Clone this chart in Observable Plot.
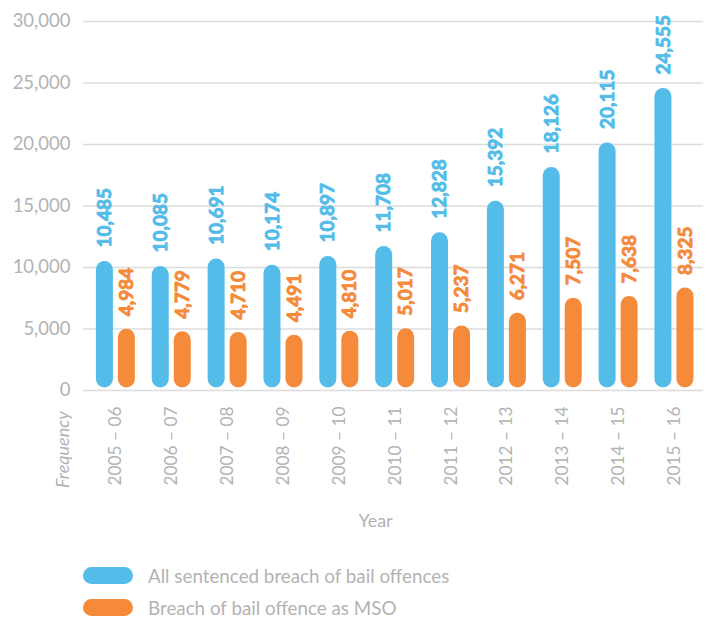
<!DOCTYPE html>
<html>
<head>
<meta charset="utf-8">
<script src="https://cdn.jsdelivr.net/npm/d3@7"></script>
<script src="https://cdn.jsdelivr.net/npm/@observablehq/plot@0.6"></script>
<style>
  body { margin: 0; background: #fff; font-family: Lato, sans-serif; }
  #chart svg { display: block; }
  .legend { margin-top: 14px; padding-left: 83px; }
  .row { display: flex; align-items: center; height: 32px; }
  .sw { width: 50px; height: 17px; border-radius: 8.5px; margin-right: 15px; }
  .lab { font-size: 18.8px; color: #b3b3b3; }
</style>
</head>
<body>
<div id="chart"></div>
<script>
const years = ["2005 – 06", "2006 – 07", "2007 – 08", "2008 – 09", "2009 – 10", "2010 – 11", "2011 – 12", "2012 – 13", "2013 – 14", "2014 – 15", "2015 – 16"];
const allSentenced = [10485, 10085, 10691, 10174, 10897, 11708, 12828, 15392, 18126, 20115, 24555];
const asMSO = [4984, 4779, 4710, 4491, 4810, 5017, 5237, 6271, 7507, 7638, 8325];
const seriesNames = ["All sentenced breach of bail offences", "Breach of bail offence as MSO"];
const colors = ["#53bce9", "#f58a3a"];
const yTicks = [0, 5000, 10000, 15000, 20000, 25000, 30000];

const dataA = years.map((year, i) => ({year, value: allSentenced[i]}));
const dataB = years.map((year, i) => ({year, value: asMSO[i]}));

const font = 'Lato, sans-serif';
const gray = "#b3b3b3";

const chart = Plot.plot({
  width: 710,
  height: 545,
  marginTop: 21,
  marginBottom: 155,
  marginLeft: 83,
  marginRight: 7,
  style: {fontFamily: font, fontSize: "18px", color: gray, background: "#fff"},
  x: {domain: years, paddingInner: 0, paddingOuter: 0.05, align: 0.8, round: false, label: null},
  y: {domain: [0, 30000], label: null},
  marks: [
    Plot.gridY(yTicks, {stroke: "#dcdcdc", strokeOpacity: 1, strokeWidth: 1.5}),
    Plot.axisY(yTicks, {tickSize: 0, tickPadding: 13, tickFormat: d3.format(","), fill: gray, fontSize: 18.5, label: null}),
    Plot.axisX({tickSize: 0, tickPadding: 16, tickRotate: -90, fill: gray, fontSize: 17.3, label: null}),
    Plot.barY(dataA, {x: "year", y: "value", fill: colors[0], insetLeft: 8.43, insetRight: 30.43, insetBottom: 2.5, rx: 8.5, ry: 8.5}),
    Plot.barY(dataB, {x: "year", y: "value", fill: colors[1], insetLeft: 30.43, insetRight: 8.43, insetBottom: 2.5, rx: 8.5, ry: 8.5}),
    Plot.text(dataA, {x: "year", y: "value", text: d => d3.format(",")(d.value), dx: -11, dy: -14, rotate: -90, textAnchor: "start", lineAnchor: "middle", fill: colors[0], stroke: colors[0], strokeWidth: 0.9, fontWeight: "bold", fontSize: 19}),
    Plot.text(dataB, {x: "year", y: "value", text: d => d3.format(",")(d.value), dx: 11, dy: -13, rotate: -90, textAnchor: "start", lineAnchor: "middle", fill: colors[1], stroke: colors[1], strokeWidth: 0.9, fontWeight: "bold", fontSize: 19}),
    Plot.text(["Frequency"], {frameAnchor: "bottom-left", dx: -20, dy: 59, rotate: -90, textAnchor: "middle", lineAnchor: "middle", fill: gray, fontStyle: "italic", fontSize: 18}),
    Plot.text(["Year"], {frameAnchor: "bottom", dx: -18, dy: 131, textAnchor: "middle", lineAnchor: "middle", fill: gray, fontSize: 18})
  ]
});
document.getElementById("chart").appendChild(chart);

const legend = document.createElement("div");
legend.className = "legend";
seriesNames.forEach((name, i) => {
  const row = document.createElement("div");
  row.className = "row";
  const sw = document.createElement("div");
  sw.className = "sw";
  sw.style.background = colors[i];
  const lab = document.createElement("span");
  lab.className = "lab";
  lab.textContent = name;
  row.appendChild(sw);
  row.appendChild(lab);
  legend.appendChild(row);
});
document.body.appendChild(legend);
</script>
</body>
</html>
